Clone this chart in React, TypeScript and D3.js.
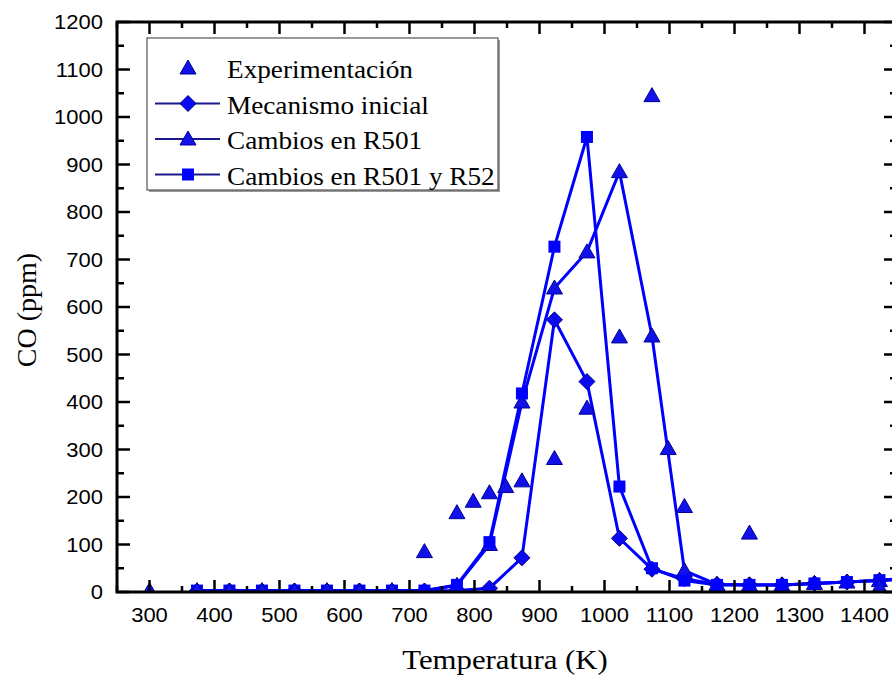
import React from "react";
import * as d3 from "d3";

// temperatures (K) and CO (ppm)
const expTemps = [300, 373, 423, 473, 523, 573, 623, 673, 723, 773, 798, 823, 848, 873, 923, 973, 1023, 1073, 1098, 1123, 1223, 1423];
const expCO = [3, 3, 2, 3, 2, 3, 2, 3, 85, 167, 191, 209, 222, 234, 281, 387, 537, 1045, 302, 180, 124, 10];

const modelTemps = [373, 423, 473, 523, 573, 623, 673, 723, 773, 823, 873, 923, 973, 1023, 1073, 1123, 1173, 1223, 1273, 1323, 1373, 1423, 1473];
const mecanismoInicial = [2, 2, 2, 2, 2, 2, 2, 2, 3, 8, 72, 573, 443, 113, 48, 28, 16, 15, 15, 18, 21, 24, 28];
const cambiosR501 = [2, 2, 2, 2, 2, 2, 2, 2, 14, 100, 400, 640, 716, 885, 539, 45, 16, 15, 15, 18, 21, 24, 28];
const cambiosR501R52 = [3, 3, 3, 3, 3, 3, 3, 3, 15, 105, 418, 727, 958, 222, 50, 24, 15, 15, 15, 18, 21, 25, 30];

const legendLabels = ["Experimentación", "Mecanismo inicial", "Cambios en R501", "Cambios en R501 y R52"];

const xTicks = d3.range(300, 1401, 100);
const yTicks = d3.range(0, 1201, 100);

const W = 892;
const H = 677;
const left = 117;
const right = 897;
const top = 22;
const bottom = 592;

const x = d3.scaleLinear().domain([250, 1450]).range([left, right]);
const y = d3.scaleLinear().domain([0, 1200]).range([bottom, top]);

const BLUE = "#0000ff";
const serif = "'Liberation Serif', 'Times New Roman', serif";
const sans = "'Liberation Sans', Arial, sans-serif";
// the source image is a bit stretched sideways, so text is widened to match
const SX = 1.1;

type Kind = "tri" | "dia" | "sq";

function Marker({ kind, cx, cy }: { kind: Kind; cx: number; cy: number }) {
  if (kind === "tri") {
    return (
      <path
        d={`M${cx},${cy - 8}L${cx + 8},${cy + 6}L${cx - 8},${cy + 6}Z`}
        fill="#1212e8"
        stroke="#00009a"
        strokeWidth={1}
      />
    );
  }
  if (kind === "dia") {
    return (
      <path
        d={`M${cx},${cy - 8}L${cx + 8},${cy}L${cx},${cy + 8}L${cx - 8},${cy}Z`}
        fill="#0a0af0"
        stroke="#00008b"
        strokeWidth={1}
      />
    );
  }
  return <rect x={cx - 6} y={cy - 6} width={12} height={12} fill={BLUE} />;
}

export default function App() {
  const line = d3
    .line<number>()
    .x((_, i) => x(modelTemps[i]))
    .y((d) => y(d));

  const series: { values: number[]; kind: Kind }[] = [
    { values: mecanismoInicial, kind: "dia" },
    { values: cambiosR501, kind: "tri" },
    { values: cambiosR501R52, kind: "sq" },
  ];

  const minorX = d3.range(250, 1451, 50);
  const minorY = d3.range(0, 1201, 50);

  return (
    <svg width={W} height={H} style={{ position: "absolute", left: 0, top: 0, background: "#fff" }}>
      <defs>
        <clipPath id="plot">
          <rect x={left} y={top} width={right - left} height={bottom - top} />
        </clipPath>
      </defs>
      <rect width={W} height={H} fill="#fff" />

      {/* model curves */}
      <g clipPath="url(#plot)">
        {series.map((s, k) => (
          <path key={k} d={line(s.values) || ""} fill="none" stroke={BLUE} strokeWidth={3} />
        ))}
        {series.map((s, k) =>
          s.values.map((v, i) => (
            <Marker key={`${k}-${i}`} kind={s.kind} cx={x(modelTemps[i])} cy={y(v)} />
          ))
        )}
        {expCO.map((v, i) => (
          <Marker key={`e${i}`} kind="tri" cx={x(expTemps[i])} cy={y(v)} />
        ))}
      </g>

      {/* frame */}
      <rect x={left} y={top} width={right - left} height={bottom - top} fill="none" stroke="#000" strokeWidth={3} />

      {/* ticks (inward) */}
      {minorX.map((t) => {
        const len = t % 100 === 0 ? 12 : 6;
        return (
          <g key={`xt${t}`} stroke="#000" strokeWidth={2.5}>
            <line x1={x(t)} x2={x(t)} y1={bottom} y2={bottom - len} />
            <line x1={x(t)} x2={x(t)} y1={top} y2={top + len} />
          </g>
        );
      })}
      {minorY.map((t) => {
        const len = t % 100 === 0 ? 13 : 7;
        return (
          <g key={`yt${t}`} stroke="#000" strokeWidth={2.5}>
            <line x1={left} x2={left + len} y1={y(t)} y2={y(t)} />
            <line x1={right} x2={right - len} y1={y(t)} y2={y(t)} />
          </g>
        );
      })}

      {/* tick labels */}
      {xTicks.map((t) => (
        <text
          key={`xl${t}`}
          transform={`translate(${x(t)},622) scale(${SX},1)`}
          textAnchor="middle"
          fontFamily={sans}
          fontSize={20}
        >
          {t}
        </text>
      ))}
      {yTicks.map((t) => (
        <text
          key={`yl${t}`}
          transform={`translate(103,${y(t)}) scale(${SX},1)`}
          dy="0.36em"
          textAnchor="end"
          fontFamily={sans}
          fontSize={20}
        >
          {t}
        </text>
      ))}

      {/* axis titles */}
      <text transform={`translate(505,669) scale(${SX},1)`} textAnchor="middle" fontFamily={serif} fontSize={28}>
        Temperatura (K)
      </text>
      <text transform="translate(36,310) rotate(-90)" textAnchor="middle" fontFamily={serif} fontSize={28}>
        CO (ppm)
      </text>

      {/* legend */}
      <g>
        <rect x={149} y={40} width={351} height={152} fill="#999" />
        <rect x={147} y={38} width={351} height={152} fill="#fff" stroke="#555" strokeWidth={1.2} />
        {legendLabels.map((lab, i) => {
          const cy = 68 + i * 35.5;
          const kind: Kind = i === 1 ? "dia" : i === 3 ? "sq" : "tri";
          return (
            <g key={lab}>
              {i > 0 && <line x1={155} x2={220} y1={cy} y2={cy} stroke="#1a1a8c" strokeWidth={2} />}
              <Marker kind={kind} cx={188} cy={cy} />
              <text transform={`translate(227,${cy + 10}) scale(1.09,1)`} fontFamily={serif} fontSize={25}>
                {lab}
              </text>
            </g>
          );
        })}
      </g>
    </svg>
  );
}
